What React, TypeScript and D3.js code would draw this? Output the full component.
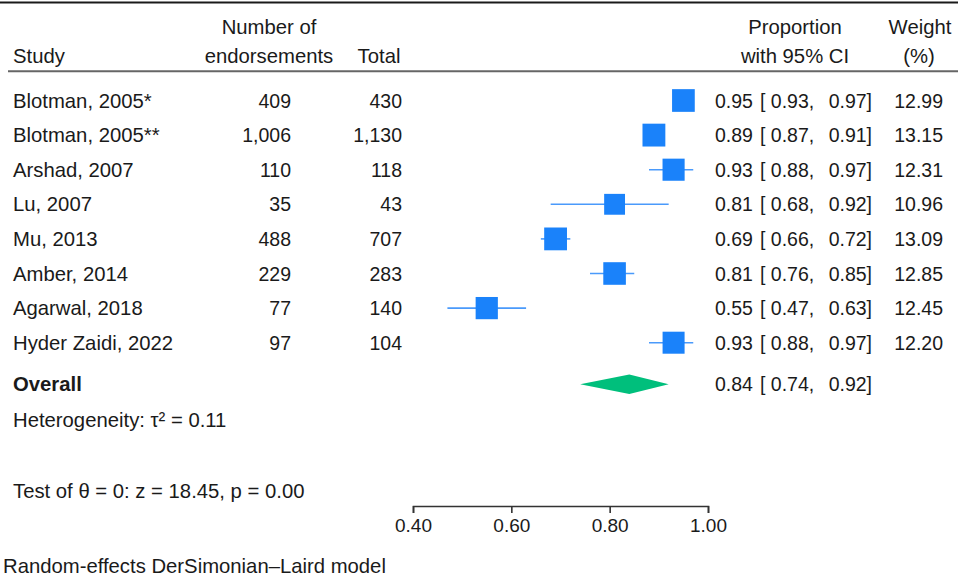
import { useEffect, useRef } from 'react'
import * as d3 from 'd3'

const studies = ['Blotman, 2005*', 'Blotman, 2005**', 'Arshad, 2007', 'Lu, 2007', 'Mu, 2013', 'Amber, 2014', 'Agarwal, 2018', 'Hyder Zaidi, 2022']
const endorsements = ['409', '1,006', '110', '35', '488', '229', '77', '97']
const totals = ['430', '1,130', '118', '43', '707', '283', '140', '104']
const estimates = [0.95, 0.89, 0.93, 0.81, 0.69, 0.81, 0.55, 0.93]
const lower = [0.93, 0.87, 0.88, 0.68, 0.66, 0.76, 0.47, 0.88]
const upper = [0.97, 0.91, 0.97, 0.92, 0.72, 0.85, 0.63, 0.97]
const weights = [12.99, 13.15, 12.31, 10.96, 13.09, 12.85, 12.45, 12.20]
const overall = { est: 0.84, lo: 0.74, hi: 0.92 }
const axisTicks = [0.4, 0.6, 0.8, 1.0]

const FONT = '"Liberation Sans", Arial, Helvetica, sans-serif'
const BLUE = '#1a82fa'
const GREEN = '#00bf7c'

export default function App() {
  const ref = useRef<SVGSVGElement>(null)

  useEffect(() => {
    const svg = d3.select(ref.current)
    svg.selectAll('*').remove()
    const W = 958
    const fs = 19.5 // numbers
    const fl = 20.3 // labels

    const x = d3.scaleLinear().domain([0.4, 1.0]).range([413, 708])
    const y = d3.scaleLinear().domain([0, 1]).range([100.5, 135.1])

    const txt = (t: string, tx: number, ty: number, anchor = 'start', weight = 'normal', size = fs) =>
      svg.append('text')
        .attr('x', tx).attr('y', ty)
        .attr('text-anchor', anchor)
        .attr('dominant-baseline', 'central')
        .attr('font-size', size)
        .attr('font-weight', weight)
        .attr('fill', '#1a1a1a')
        .text(t)
    const lbl = (t: string, tx: number, ty: number, anchor = 'start', weight = 'normal') =>
      txt(t, tx, ty, anchor, weight, fl)

    // frame lines
    svg.append('rect').attr('x', 0).attr('y', 1.5).attr('width', W).attr('height', 2).attr('fill', '#1a1a1a')
    svg.append('line').attr('x1', 8).attr('x2', W).attr('y1', 71.3).attr('y2', 71.3)
      .attr('stroke', '#666').attr('stroke-width', 2)

    // headers
    const colN = 291, colT = 402, colCI = 715, colW = 943
    lbl('Study', 13, 56)
    lbl('Number of', 269, 27, 'middle')
    lbl('endorsements', 269, 56, 'middle')
    lbl('Total', 379, 56, 'middle')
    lbl('Proportion', 795, 27, 'middle')
    lbl('with 95% CI', 795, 56, 'middle')
    lbl('Weight', 920, 27, 'middle')
    lbl('(%)', 919, 56, 'middle')

    const fmt = d3.format('.2f')

    const ciText = (est: number, lo: number, hi: number, cy: number) => {
      txt(fmt(est), colCI, cy)
      txt(`[ ${fmt(lo)},`, colCI + 45, cy)
      txt(`${fmt(hi)}]`, 872, cy, 'end')
    }

    studies.forEach((s, i) => {
      const cy = y(i)
      lbl(s, 13, cy)
      txt(endorsements[i], colN, cy, 'end')
      txt(totals[i], colT, cy, 'end')
      ciText(estimates[i], lower[i], upper[i], cy)
      txt(fmt(weights[i]), colW, cy, 'end')

      svg.append('line')
        .attr('x1', x(lower[i])).attr('x2', x(upper[i]))
        .attr('y1', cy).attr('y2', cy)
        .attr('stroke', '#4a9afb').attr('stroke-width', 1.6)
      const side = 6.3 * Math.sqrt(weights[i])
      svg.append('rect')
        .attr('x', x(estimates[i]) - side / 2).attr('y', cy - side / 2)
        .attr('width', side).attr('height', side)
        .attr('fill', BLUE)
    })

    // overall
    const oy = 384.3
    lbl('Overall', 13, oy, 'start', 'bold')
    ciText(overall.est, overall.lo, overall.hi, oy)
    svg.append('path')
      .attr('d', `M${x(overall.lo)},${oy}L${x(overall.est)},${oy - 9.8}L${x(overall.hi)},${oy}L${x(overall.est)},${oy + 9.8}Z`)
      .attr('fill', GREEN)

    lbl('Heterogeneity: τ² = 0.11', 13, 420)
    lbl('Test of θ = 0: z = 18.45, p = 0.00', 13, 491)

    // axis, ticks pointing down from the line
    const axis = svg.append('g')
      .attr('transform', 'translate(0,506)')
      .call(d3.axisBottom(x).tickValues(axisTicks).tickFormat(d3.format('.2f')).tickSizeOuter(0).tickSize(7).tickPadding(6))
    axis.select('.domain').attr('stroke', '#333').attr('stroke-width', 1.6)
    axis.selectAll('.tick line').attr('stroke', '#333').attr('stroke-width', 1.6)
    axis.selectAll('.tick text').attr('font-size', 19).attr('font-family', FONT).attr('fill', '#1a1a1a')

    lbl('Random-effects DerSimonian–Laird model', 3, 566)
  }, [])

  return (
    <svg ref={ref} width={958} height={577}
      style={{ position: 'absolute', left: 0, top: 0, background: '#fff', fontFamily: FONT }} />
  )
}
